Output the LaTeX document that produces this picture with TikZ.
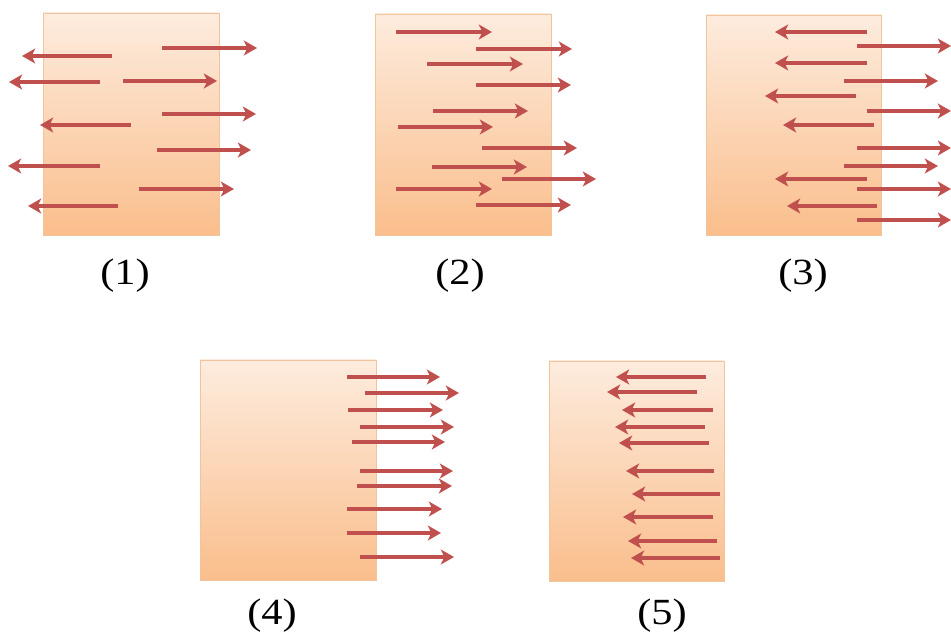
\documentclass[tikz,border=0pt]{standalone}
\usepackage{fontspec}
\setmainfont{Liberation Serif}
\usepackage{tikz}
\usetikzlibrary{arrows.meta,shadows}
\definecolor{boxtop}{RGB}{253,236,222}
\definecolor{boxbot}{RGB}{250,190,140}
\definecolor{boxline}{RGB}{240,196,156}
\definecolor{flowred}{RGB}{192,80,77}
\tikzstyle{slab} = [draw=boxline, line width=0.4pt,
top color=boxtop, bottom color=boxbot,
drop shadow={opacity=0.25, shadow xshift=0.6pt, shadow yshift=-0.6pt}]
\tikzstyle{flow} = [-{Stealth[length=7.5pt, width=8.5pt, inset=2pt]}, line width=2.2pt, draw=flowred]
\tikzstyle{caption} = [font=\fontsize{21}{24}\selectfont, xscale=1.15]

\begin{document}
\begin{tikzpicture}[
  x=0.02cm, y=-0.02cm, % pixel grid of the figure
]
  \useasboundingbox (0,0) rectangle (951,641);

  % the five slabs
  \path[slab] (43,13)  rectangle (219,235);
  \path[slab] (375,14) rectangle (551,235);
  \path[slab] (706,15) rectangle (881,235);
  \path[slab] (200,360) rectangle (376,580);
  \path[slab] (549,361) rectangle (724,581);

  % captions
  \node[caption] (c1) at (125,276) {(1)};
  \node[caption] (c2) at (460,276) {(2)};
  \node[caption] (c3) at (803,276) {(3)};
  \node[caption] (c4) at (272,616) {(4)};
  \node[caption] (c5) at (662,616) {(5)};

  % (1) mixed directions
  \foreach \y/\a/\b in {56/112/22, 82/100/9, 125/131/40, 166/100/8, 206/118/28,
                        48/162/257, 81/123/217, 114/162/256, 150/157/251, 189/139/234}
    \draw[flow] (\a,\y) -- (\b,\y);

  % (2) all to the right
  \foreach \y/\a/\b in {32/396/492, 49/476/572, 64/427/523, 85/476/571, 111/433/528,
                        127/398/493, 148/482/577, 167/432/527, 179/502/596, 189/396/492,
                        205/476/571}
    \draw[flow] (\a,\y) -- (\b,\y);

  % (3) left inside, right leaving
  \foreach \y/\a/\b in {32/867/775, 63/867/775, 96/856/765, 125/874/783, 179/867/775,
                        206/877/787,
                        46/857/951, 81/844/938, 111/867/951, 148/857/951, 166/844/938,
                        189/857/951, 220/857/951}
    \draw[flow] (\a,\y) -- (\b,\y);

  % (4) all leaving on the right
  \foreach \y/\a/\b in {377/347/440, 393/365/459, 410/348/443, 427/360/454, 442/352/445,
                        471/360/453, 486/357/452, 509/347/442, 533/347/441, 557/360/454}
    \draw[flow] (\a,\y) -- (\b,\y);

  % (5) all to the left
  \foreach \y/\a/\b in {377/706/616, 392/697/607, 410/713/622, 427/705/615, 443/709/619,
                        471/714/626, 494/720/632, 517/713/623, 541/717/628, 558/720/631}
    \draw[flow] (\a,\y) -- (\b,\y);
\end{tikzpicture}
\end{document}
